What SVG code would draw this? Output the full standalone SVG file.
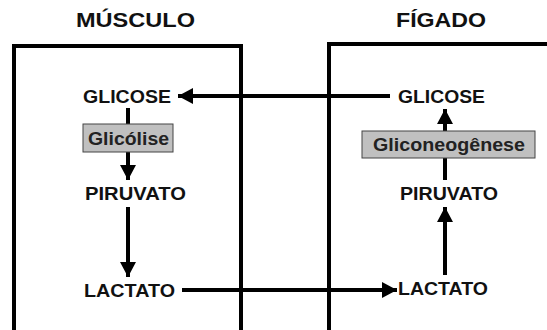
<svg xmlns="http://www.w3.org/2000/svg" width="547" height="330" viewBox="0 0 547 330">
<style>
.frame{fill:none;stroke:#000;stroke-width:4}
.conn{fill:none;stroke:#000;stroke-width:4}
.title{font-family:"Liberation Sans",Arial,sans-serif;font-weight:bold;font-size:20px;fill:#111}
.lbl{font-family:"Liberation Sans",Arial,sans-serif;font-weight:bold;font-size:18.5px;fill:#111}
.proc rect{fill:#c0c0c0;stroke:#444;stroke-width:1}
.proc text{font-family:"Liberation Sans",Arial,sans-serif;font-weight:bold;font-size:17.5px;fill:#222}
</style>
<defs>
<marker id="ah" markerUnits="userSpaceOnUse" markerWidth="16" markerHeight="16" refX="15" refY="8" orient="auto">
<path d="M0,0 L15,8 L0,16 z" fill="#000"/>
</marker>
</defs>
<rect width="547" height="330" fill="#fff"/>
<g id="musculo">
<path class="frame" d="M14,340 L14,46 L241,46 L241,340"/>
<text class="title" x="76" y="27" textLength="119" lengthAdjust="spacingAndGlyphs">MÚSCULO</text>
</g>
<g id="figado">
<path class="frame" d="M329,340 L329,44 L560,44"/>
<text class="title" x="396" y="27" textLength="90" lengthAdjust="spacingAndGlyphs">FÍGADO</text>
</g>
<g id="connectors">
<path class="conn" d="M390,96 L178,96" marker-end="url(#ah)"/>
<path class="conn" d="M128,108 L128,180" marker-end="url(#ah)"/>
<path class="conn" d="M128,207 L128,277" marker-end="url(#ah)"/>
<path class="conn" d="M182,290 L397,290" marker-end="url(#ah)"/>
<path class="conn" d="M445,275 L445,207" marker-end="url(#ah)"/>
<path class="conn" d="M445,180 L445,109" marker-end="url(#ah)"/>
</g>
<g id="glicose-m"><text class="lbl" x="83" y="103" textLength="88" lengthAdjust="spacingAndGlyphs">GLICOSE</text></g>
<g id="glicolise" class="proc"><rect x="83" y="124" width="90" height="28"/><text x="88" y="145" textLength="81" lengthAdjust="spacingAndGlyphs">Glicólise</text></g>
<g id="piruvato-m"><text class="lbl" x="85" y="200" textLength="101" lengthAdjust="spacingAndGlyphs">PIRUVATO</text></g>
<g id="lactato-m"><text class="lbl" x="84" y="297" textLength="91" lengthAdjust="spacingAndGlyphs">LACTATO</text></g>
<g id="glicose-f"><text class="lbl" x="398" y="103" textLength="87" lengthAdjust="spacingAndGlyphs">GLICOSE</text></g>
<g id="gliconeogenese" class="proc"><rect x="362" y="131" width="173" height="27"/><text x="373" y="151" textLength="152" lengthAdjust="spacingAndGlyphs">Gliconeogênese</text></g>
<g id="piruvato-f"><text class="lbl" x="400" y="200" textLength="98" lengthAdjust="spacingAndGlyphs">PIRUVATO</text></g>
<g id="lactato-f"><text class="lbl" x="398" y="295" textLength="90" lengthAdjust="spacingAndGlyphs">LACTATO</text></g>
</svg>
